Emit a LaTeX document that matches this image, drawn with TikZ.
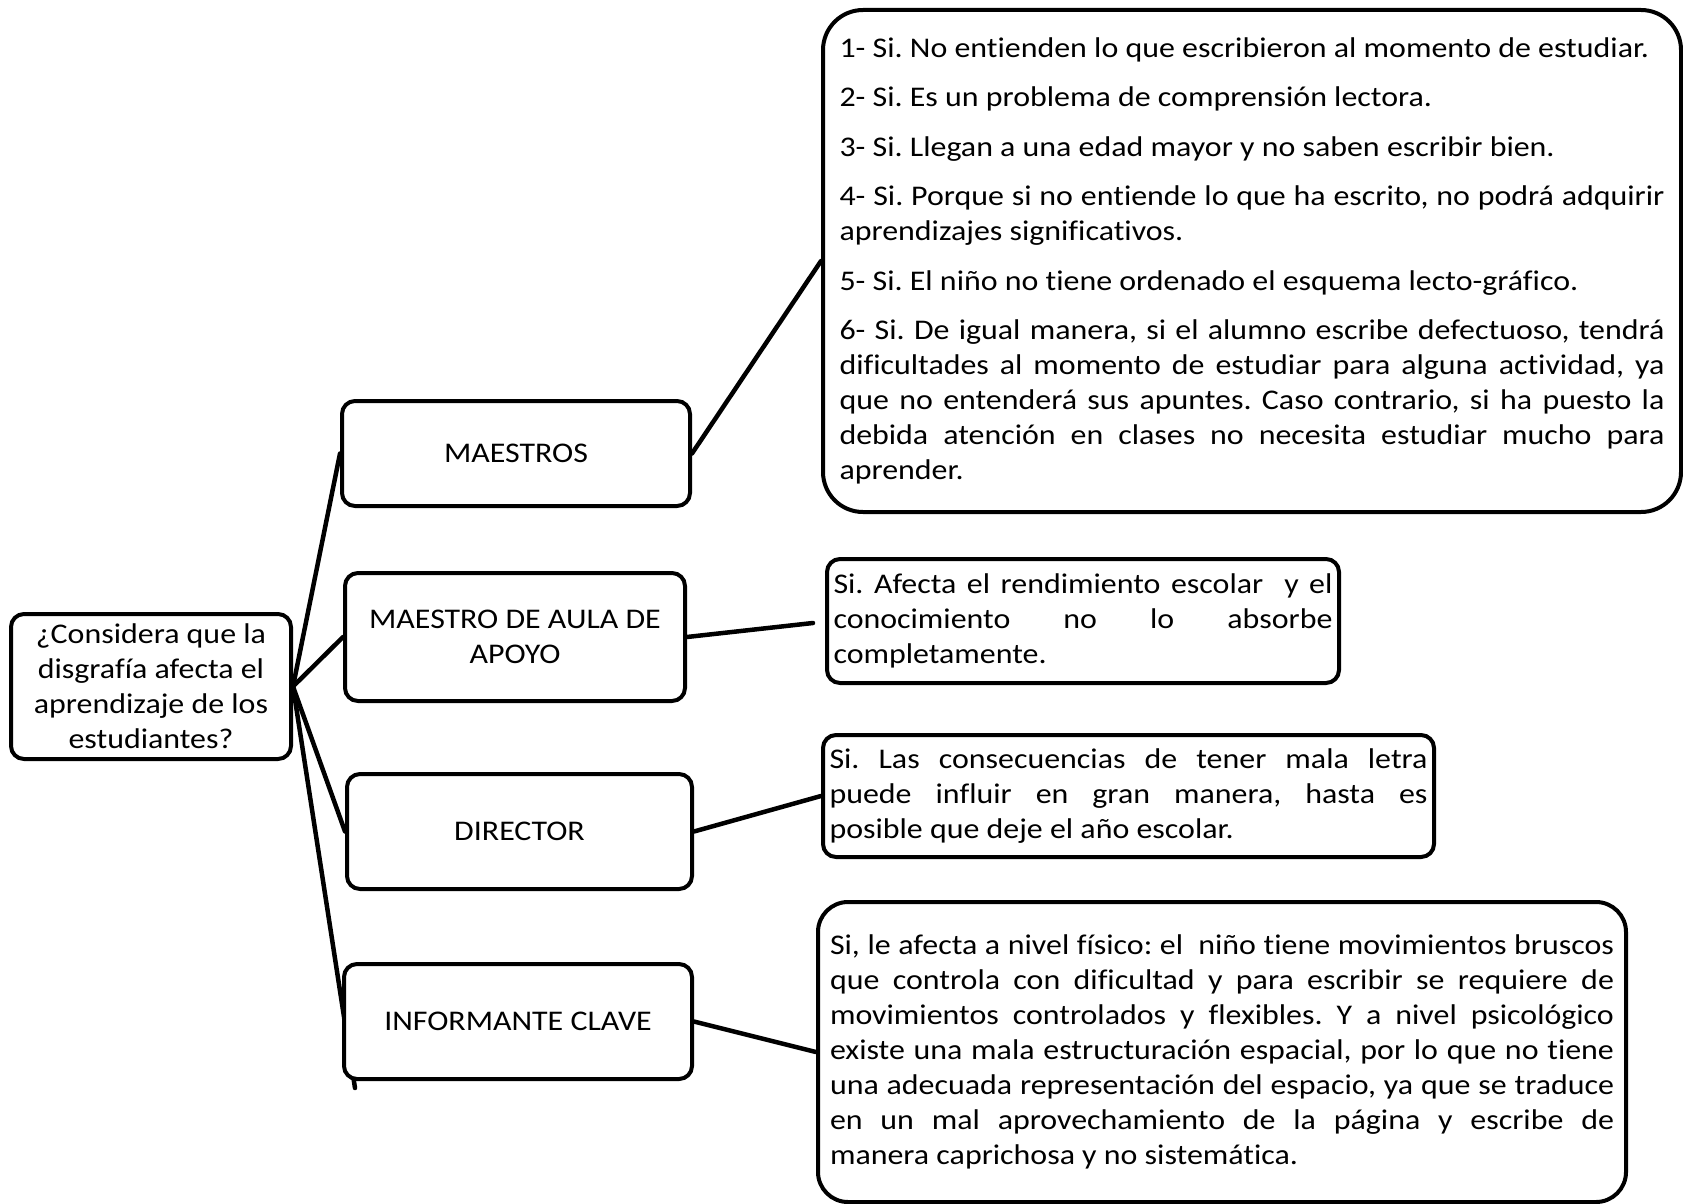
\documentclass[tikz,border=0pt]{standalone}
\usepackage{fontspec}
\setmainfont{Carlito}[FakeStretch=1.12, Ligatures=NoCommon]
\usetikzlibrary{backgrounds}
\frenchspacing
\begin{document}
\begin{tikzpicture}[x=1pt,y=-1pt,
  box/.style={draw, line width=4pt, fill=white, rounded corners=#1, inner sep=0pt,
    font=\fontsize{28.5}{35}\selectfont},
  box/.default=13pt,
  lbox/.style={box, align=center},
  rbox/.style={box=#1, align=justify, inner ysep=0pt},
  link/.style={line width=4.5pt, line cap=round},
]
\useasboundingbox (0,0) rectangle (1683,1204);

% left column
\node[lbox, minimum width=280pt, minimum height=145pt] (root) at (151,686.5)
  {¿Considera que la\\disgrafía afecta el\\aprendizaje de los\\estudiantes?};
\node[lbox, minimum width=348pt, minimum height=105pt] (mae) at (516,453.5) {MAESTROS};
\node[lbox, minimum width=340pt, minimum height=128pt] (aula) at (515,637) {MAESTRO DE AULA DE\\APOYO};
\node[lbox, minimum width=345pt, minimum height=115pt] (dir) at (519.5,831.5) {DIRECTOR};
\node[lbox, minimum width=348pt, minimum height=115pt] (inf) at (518,1021.5) {INFORMANTE CLAVE};

% right column
\node[rbox=40pt, text width=825pt, inner xsep=16.5pt, minimum height=502pt] (r1) at (1252,261) {%
\parindent=0pt\tolerance=9999
1- Si. No entienden lo que escribieron al momento de estudiar.\par\vskip14.5pt
2- Si. Es un problema de comprensión lectora.\par\vskip14.5pt
3- Si. Llegan a una edad mayor y no saben escribir bien.\par\vskip14.5pt
4- Si. Porque si no entiende lo que ha escrito, no podrá adquirir\linebreak aprendizajes significativos.\par\vskip14.5pt
5- Si. El niño no tiene ordenado el esquema lecto-gráfico.\par\vskip14.5pt
6- Si. De igual manera, si el alumno escribe defectuoso, tendrá\linebreak
dificultades al momento de estudiar para alguna actividad, ya\linebreak
que no entenderá sus apuntes. Caso contrario, si ha puesto la\linebreak
debida atención en clases no necesita estudiar mucho para\linebreak
aprender.};

\node[rbox=13pt, text width=499pt, inner xsep=6.5pt, minimum height=124pt] (r2) at (1083,621) {%
\parindent=0pt\tolerance=9999
Si. Afecta el rendimiento escolar\ \ y el\linebreak
conocimiento no lo absorbe\linebreak
completamente.};

\node[rbox=13pt, text width=598pt, inner xsep=6.5pt, minimum height=122pt] (r3) at (1128.5,796) {%
\parindent=0pt\tolerance=9999
Si. Las consecuencias de tener mala letra\linebreak
puede influir en gran manera, hasta es\linebreak
posible que deje el año escolar.};

\node[rbox=30pt, text width=784pt, inner xsep=12pt, minimum height=300pt] (r4) at (1222,1052) {%
\parindent=0pt\tolerance=9999
Si, le afecta a nivel físico: el\ \ niño tiene movimientos bruscos\linebreak
que controla con dificultad y para escribir se requiere de\linebreak
movimientos controlados y flexibles. Y a nivel psicológico\linebreak
existe una mala estructuración espacial, por lo que no tiene\linebreak
una adecuada representación del espacio, ya que se traduce\linebreak
en un mal aprovechamiento de la página y escribe de\linebreak
manera caprichosa y no sistemática.};

\coordinate (trunkend) at (355,1088);
\coordinate (r2end) at (813,623);

\begin{scope}[on background layer]
\draw[link] (root.east) -- (mae.west);
\draw[link] (root.east) -- (aula.west);
\draw[link] (root.east) -- (dir.west);
\draw[link] (root.east) -- (trunkend);
\draw[link] (mae.east) -- (r1.west);
\draw[link] (aula.east) -- (r2end);
\draw[link] (dir.east) -- (r3.west);
\draw[link] (inf.east) -- (r4.west);
\end{scope}
\end{tikzpicture}
\end{document}
